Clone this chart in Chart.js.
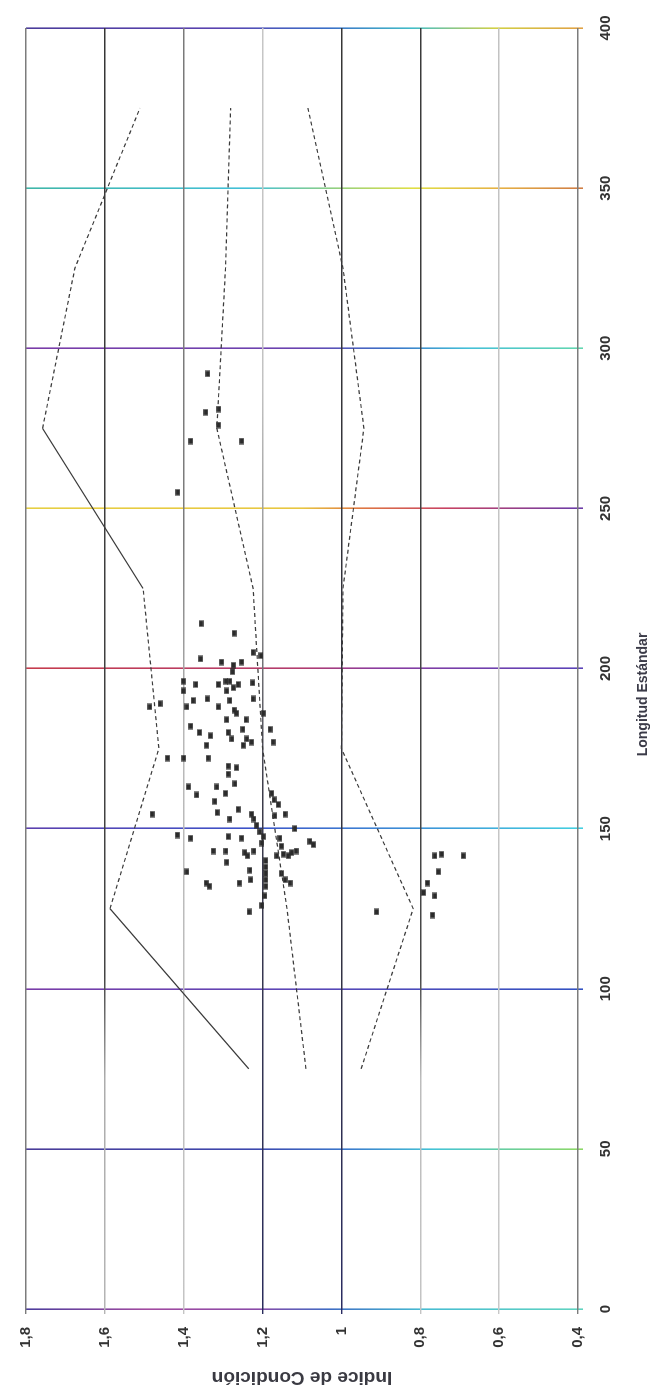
<!DOCTYPE html>
<html lang="es">
<head>
<meta charset="utf-8">
<title>Índice de Condición / Longitud Estándar</title>
<script src="https://cdn.jsdelivr.net/npm/chart.js@4.4.1/dist/chart.umd.min.js"></script>
<style>
  html, body { margin: 0; padding: 0; background: #ffffff; overflow: hidden; }
  body { width: 662px; height: 1395px; position: relative; }
  /* the chart is laid out landscape and turned a quarter turn counter-clockwise */
  #frame {
    position: absolute; left: 0; top: 0;
    width: 1395px; height: 662px;
    transform-origin: 0 0;
    transform: translate(0, 1395px) rotate(-90deg);
  }
</style>
</head>
<body>
<div id="frame"><canvas id="chart"></canvas></div>
<script>
// ---- axis ticks ----
const lengthTicks = [0, 50, 100, 150, 200, 250, 300, 350, 400];
const lengthTickLabels = ['0', '50', '100', '150', '200', '250', '300', '350', '400'];
const conditionTicks = [0.4, 0.6, 0.8, 1.0, 1.2, 1.4, 1.6, 1.8];
const conditionTickLabels = ['0,4', '0,6', '0,8', '1', '1,2', '1,4', '1,6', '1,8'];

// ---- sampled fish: standard length and condition index ----
const sampleLength = [
  292, 280, 281, 276, 271, 271, 255,
  214, 211, 205, 204, 203, 202, 201, 202, 199, 196, 193, 195, 195, 196, 196, 195, 193, 194, 195.5,
  190.5, 190, 190.5, 188, 189, 188, 190, 188, 187, 186, 186, 184, 184, 182, 180, 179, 180, 178,
  181, 178, 181, 177, 176, 176, 177,
  172, 172, 172, 169.5, 169, 167, 164, 163, 160.5, 163, 161, 158.5, 155, 156, 153, 154.5, 153,
  161, 159, 157.5, 154.5, 154, 154.5,
  148, 147, 147.5, 147, 151, 149, 147.5, 145.5, 147, 144.5, 150, 143, 146, 145,
  143, 143, 139.5, 142.5, 141.5, 143, 141.5, 142, 141.5, 142.5,
  136.5, 133, 132, 133, 137, 134, 140, 138, 136, 134, 132, 136, 134, 133, 124, 126, 129,
  141.5, 142, 141.5, 136.5, 133, 130, 129, 123, 124
];
const sampleCondition = [
  1.339, 1.344, 1.311, 1.312, 1.382, 1.253, 1.415,
  1.356, 1.272, 1.224, 1.204, 1.357, 1.304, 1.274, 1.253, 1.276, 1.401, 1.401, 1.369, 1.312, 1.293, 1.283, 1.262, 1.291, 1.274, 1.225,
  1.340, 1.283, 1.224, 1.486, 1.460, 1.392, 1.376, 1.312, 1.272, 1.266, 1.198, 1.291, 1.242, 1.382, 1.360, 1.332, 1.287, 1.278,
  1.250, 1.240, 1.181, 1.173, 1.342, 1.249, 1.228,
  1.338, 1.441, 1.400, 1.287, 1.266, 1.287, 1.270, 1.388, 1.367, 1.316, 1.294, 1.321, 1.315, 1.262, 1.283, 1.228, 1.222,
  1.177, 1.171, 1.160, 1.143, 1.169, 1.480,
  1.416, 1.382, 1.287, 1.253, 1.215, 1.207, 1.198, 1.202, 1.156, 1.152, 1.118, 1.115, 1.080, 1.071,
  1.325, 1.293, 1.291, 1.245, 1.238, 1.222, 1.164, 1.147, 1.135, 1.126,
  1.392, 1.343, 1.335, 1.259, 1.232, 1.230, 1.192, 1.192, 1.192, 1.192, 1.192, 1.152, 1.143, 1.130, 1.234, 1.202, 1.194,
  0.763, 0.746, 0.691, 0.754, 0.782, 0.792, 0.763, 0.769, 0.911
];

// ---- reference curves by length class ----
const curveLength = [75, 125, 175, 225, 275, 325, 375];
const upperCurve  = [1.235, 1.587, 1.463, 1.503, 1.758, 1.676, 1.511];
const middleCurve = [1.090, 1.138, 1.200, 1.224, 1.316, 1.294, 1.281];
const lowerCurve  = [0.950, 0.818, 1.000, 0.996, 0.943, 0.996, 1.085];

// ---- styling ----
const FONT = '"Liberation Sans", Arial, Helvetica, sans-serif';
const INK = '#333333';
const CURVE_INK = '#3a3a3a';
const DASH = [4, 3];
const upperSolidSegments = [0, 3];

// colour runs along each length gridline (0 = 1,8 side, 1 = 0,4 side)
const lengthGridStops = {
  0:   [[0, '#4b3c9c'], [0.22, '#a24aa0'], [0.42, '#8a4aa8'], [0.55, '#3e6cc4'], [0.72, '#46bcd2'], [1, '#5fd3c0']],
  50:  [[0, '#4a3c98'], [0.42, '#3c48ae'], [0.58, '#3a78cc'], [0.74, '#44c4d6'], [1, '#8cd868']],
  100: [[0, '#7a3ca8'], [0.5, '#5a46b6'], [1, '#3352c2']],
  150: [[0, '#5c40ae'], [0.4, '#3c52c8'], [0.72, '#3c94d8'], [1, '#44cfe0']],
  200: [[0, '#c63c4c'], [0.5, '#b23c6e'], [0.64, '#8a3ca0'], [1, '#5a42b8']],
  250: [[0, '#e6cf42'], [0.5, '#e8c640'], [0.6, '#e07a40'], [0.76, '#c84262'], [1, '#6c3ca8']],
  300: [[0, '#7a3ca8'], [0.5, '#6a42b0'], [0.66, '#3a72c8'], [0.8, '#44c0d8'], [1, '#62d6b0']],
  350: [[0, '#3fb6a8'], [0.4, '#42c0d8'], [0.56, '#92d080'], [0.7, '#e0df44'], [0.86, '#e6b044'], [1, '#d07e44']],
  400: [[0, '#4a3c9a'], [0.35, '#5a42b0'], [0.55, '#3a70c8'], [0.7, '#42bec8'], [0.85, '#d2d044'], [1, '#e0a244']]
};
// shade runs along each condition gridline (0 = length 0, 1 = length 400)
const conditionGridStops = [
  [0.4, [[0, '#7c7c7c'], [1, '#7c7c7c']]],
  [0.6, [[0, '#c8c8c8'], [1, '#c2c2c2']]],
  [0.8, [[0, '#c4c4c4'], [0.18, '#bcbcbc'], [0.26, '#474747'], [1, '#3a3a3a']]],
  [1.0, [[0, '#2a2c62'], [0.3, '#333340'], [1, '#363636']]],
  [1.2, [[0, '#2a2c5c'], [0.4, '#3c3c4a'], [0.55, '#8a8a8a'], [0.72, '#c2c2c2'], [1, '#c6c6c6']]],
  [1.4, [[0, '#c4c4c4'], [0.45, '#b8b8b8'], [0.6, '#7c7c7c'], [1, '#7a7a7a']]],
  [1.6, [[0, '#b4b4b4'], [0.18, '#acacac'], [0.26, '#444444'], [1, '#363636']]],
  [1.8, [[0, '#7c7c7c'], [1, '#7c7c7c']]]
];

function gradientFrom(ctx, x0, y0, x1, y1, stops) {
  const g = ctx.createLinearGradient(x0, y0, x1, y1);
  stops.forEach(([p, c]) => g.addColorStop(p, c));
  return g;
}

function lengthGridColor(context) {
  const chart = context.chart;
  const area = chart.chartArea;
  const stops = context.tick && lengthGridStops[context.tick.value];
  if (!area || !stops) return '#6a4aa8';
  return gradientFrom(chart.ctx, 0, area.top, 0, area.bottom, stops);
}

function conditionGridColor(context) {
  const chart = context.chart;
  const area = chart.chartArea;
  if (!area || !context.tick) return '#888888';
  const entry = conditionGridStops.find(([v]) => Math.abs(v - context.tick.value) < 1e-6);
  if (!entry) return '#888888';
  return gradientFrom(chart.ctx, area.left, 0, area.right, 0, entry[1]);
}

function labelFor(values, labels, v) {
  const i = values.findIndex(t => Math.abs(t - v) < 1e-6);
  return i < 0 ? '' : labels[i];
}

// small dark block used as the sample marker
const marker = document.createElement('canvas');
marker.width = 7;
marker.height = 5;
(function () {
  const m = marker.getContext('2d');
  m.fillStyle = 'rgba(40,40,40,0.55)';
  m.fillRect(0, 0, 7, 5);
  m.fillStyle = '#2b2b2b';
  m.fillRect(1, 0.5, 5, 4);
})();

// axis caption for length, set slightly toward the short end of the axis
const lengthCaption = {
  id: 'lengthCaption',
  afterDraw(chart) {
    const { ctx, chartArea } = chart;
    ctx.save();
    ctx.font = 'bold 14px ' + FONT;
    ctx.fillStyle = '#3b3b48';
    ctx.textAlign = 'center';
    ctx.textBaseline = 'middle';
    ctx.fillText('Longitud Estándar', (chartArea.left + chartArea.right) / 2 - 26, 643);
    ctx.restore();
  }
};

const toPoints = (xs, ys) => xs.map((x, i) => ({ x: x, y: ys[i] }));

const curveStyle = {
  type: 'line',
  showLine: true,
  borderColor: CURVE_INK,
  borderWidth: 1.2,
  borderDash: DASH,
  pointRadius: 0,
  pointHoverRadius: 0,
  fill: false,
  tension: 0
};

new Chart(document.getElementById('chart'), {
  type: 'scatter',
  data: {
    datasets: [
      Object.assign({}, curveStyle, {
        label: 'Límite superior',
        data: toPoints(curveLength, upperCurve),
        segment: {
          borderDash: ctx => upperSolidSegments.includes(ctx.p0DataIndex) ? [] : DASH
        }
      }),
      Object.assign({}, curveStyle, {
        label: 'Mediana',
        data: toPoints(curveLength, middleCurve)
      }),
      Object.assign({}, curveStyle, {
        label: 'Límite inferior',
        data: toPoints(curveLength, lowerCurve)
      }),
      {
        label: 'Muestras',
        data: toPoints(sampleLength, sampleCondition),
        pointStyle: marker,
        pointRadius: 3,
        pointHoverRadius: 3,
        pointBorderWidth: 0,
        showLine: false
      }
    ]
  },
  options: {
    responsive: true,
    maintainAspectRatio: false,
    animation: false,
    devicePixelRatio: 1,
    layout: { padding: { top: 26, right: 28, left: 0, bottom: 0 } },
    plugins: {
      legend: { display: false },
      tooltip: { enabled: false },
      title: { display: false }
    },
    scales: {
      x: {
        type: 'linear',
        position: 'bottom',
        min: 0,
        max: 400,
        afterBuildTicks: s => { s.ticks = lengthTicks.map(v => ({ value: v })); },
        afterFit: s => { s.height = 84; },
        border: { display: false },
        grid: {
          color: lengthGridColor,
          lineWidth: 1.6,
          tickLength: 5,
          drawTicks: true
        },
        ticks: {
          autoSkip: false,
          maxRotation: 0,
          padding: 14,
          color: INK,
          font: { family: FONT, size: 15, weight: 'bold' },
          callback: v => labelFor(lengthTicks, lengthTickLabels, v)
        },
        title: { display: false }
      },
      y: {
        type: 'linear',
        position: 'left',
        min: 0.4,
        max: 1.8,
        afterBuildTicks: s => { s.ticks = conditionTicks.map(v => ({ value: v })); },
        afterFit: s => { s.width = 86; },
        border: { display: false },
        grid: {
          color: conditionGridColor,
          lineWidth: 1.4,
          tickLength: 5,
          drawTicks: true
        },
        ticks: {
          autoSkip: false,
          padding: 13,
          color: INK,
          font: { family: FONT, size: 15, weight: 'bold' },
          callback: v => labelFor(conditionTicks, conditionTickLabels, v)
        },
        title: {
          display: true,
          text: 'Indice de Condición',
          color: '#3a3a42',
          font: { family: FONT, size: 19, weight: 'bold' },
          padding: { top: 6, bottom: 0 }
        }
      }
    }
  },
  plugins: [lengthCaption]
});
</script>
</body>
</html>
